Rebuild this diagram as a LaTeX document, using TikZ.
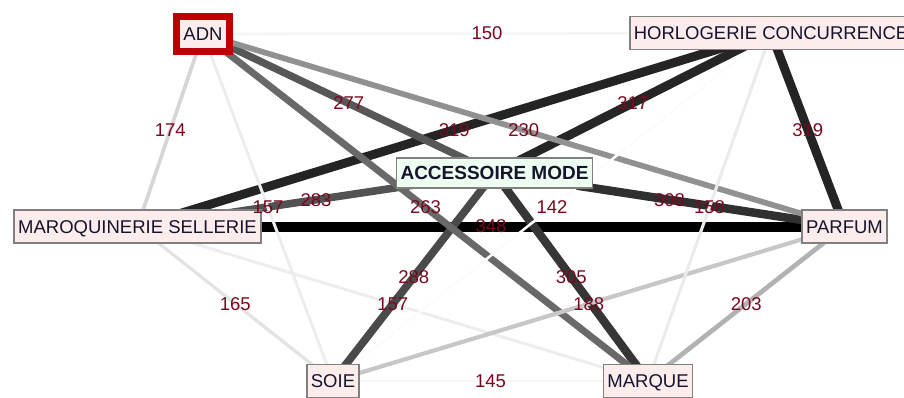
\documentclass[tikz,border=0pt]{standalone}
\usepackage{fontspec}
\setmainfont{Liberation Sans}
\usepackage{xcolor}
\usepackage{tikz}
\usetikzlibrary{backgrounds}
\definecolor{nodepink}{RGB}{253,236,236}
\definecolor{nodegreen}{RGB}{238,254,240}
\definecolor{nodeink}{RGB}{20,20,45}
\definecolor{boxgray}{RGB}{128,128,128}
\definecolor{adnred}{RGB}{192,0,0}
\definecolor{weightred}{RGB}{120,8,30}
\tikzset{
    vertex/.style={rectangle, draw=boxgray, fill=nodepink, line width=1.5pt, inner xsep=4pt, inner ysep=0pt, minimum height=33pt, text height=13.3pt, text depth=0pt, text=nodeink, font=\fontsize{18.5}{20}\selectfont},
    hub/.style={vertex, fill=nodegreen, minimum height=30pt, font=\fontsize{19}{20}\selectfont\bfseries},
    chosen/.style={vertex, draw=adnred, line width=7pt, minimum width=53pt, minimum height=35pt},
    link/.style={line cap=butt},
    weight/.style={text=weightred, inner sep=0pt, font=\fontsize{18.5}{20}\selectfont},
}

\begin{document}
\begin{tikzpicture}[x=1pt, y=-1pt]
    \useasboundingbox (0,0) rectangle (904,397);
    % vertices
    \node[chosen] (adn) at (203,34) {ADN};
    \node[vertex] (horl) at (771,33) {HORLOGERIE CONCURRENCE};
    \node[hub] (acc) at (494.5,173) {ACCESSOIRE MODE};
    \node[vertex] (maro) at (137.5,226.5) {MAROQUINERIE SELLERIE};
    \node[vertex] (parf) at (844.5,226.5) {PARFUM};
    \node[vertex] (soie) at (333,381) {SOIE};
    \node[vertex] (marq) at (648,381) {MARQUE};
    % links, shade and width follow the weight
    \begin{pgfonlayer}{background}
    \draw[link, draw=black, line width=10pt] (maro.center) -- (parf.center);
    \draw[link, draw=black!86, line width=8.9pt] (horl.center) -- (maro.center);
    \draw[link, draw=black!86, line width=8.9pt] (horl.center) -- (parf.center);
    \draw[link, draw=black!85, line width=8.9pt] (horl.center) -- (acc.center);
    \draw[link, draw=black!81, line width=8.5pt] (acc.center) -- (parf.center);
    \draw[link, draw=black!7, line width=3pt] (maro.center) -- (marq.center);
    \draw[link, draw=black!79, line width=8.4pt] (acc.center) -- (marq.center);
    \draw[link, draw=black!71, line width=7.8pt] (acc.center) -- (soie.center);
    \draw[link, draw=black!68, line width=7.6pt] (maro.center) -- (acc.center);
    \draw[link, draw=black!66, line width=7.4pt] (adn.center) -- (acc.center);
    \draw[link, draw=black!59, line width=6.9pt] (adn.center) -- (marq.center);
    \draw[link, draw=black!43, line width=5.7pt] (adn.center) -- (parf.center);
    \draw[link, draw=black!30, line width=4.7pt] (parf.center) -- (marq.center);
    \draw[link, draw=black!22, line width=4.2pt] (parf.center) -- (soie.center);
    \draw[link, draw=black!16, line width=3.7pt] (adn.center) -- (maro.center);
    \draw[link, draw=black!11, line width=3.3pt] (maro.center) -- (soie.center);
    \draw[link, draw=black!8, line width=3.1pt] (horl.center) -- (marq.center);
    \draw[link, draw=black!7, line width=3pt] (adn.center) -- (soie.center);
    \draw[link, draw=black!4, line width=2.8pt] (adn.center) -- (horl.center);
    \draw[link, draw=black!3, line width=2.6pt] (soie.center) -- (marq.center);
    \draw[link, draw=black!1, line width=2.6pt] (horl.center) -- (soie.center);
    \end{pgfonlayer}
    % weights at the middle of each link
    \path (maro.center) -- node[weight] (w348) {348} (parf.center);
    \path (horl.center) -- node[weight] (w319a) {319} (maro.center);
    \path (horl.center) -- node[weight] (w319b) {319} (parf.center);
    \path (horl.center) -- node[weight] (w317) {317} (acc.center);
    \path (acc.center) -- node[weight] (w308) {308} (parf.center);
    \path (maro.center) -- node[weight] (w157a) {157} (marq.center);
    \path (acc.center) -- node[weight] (w305) {305} (marq.center);
    \path (acc.center) -- node[weight] (w288) {288} (soie.center);
    \path (maro.center) -- node[weight] (w283) {283} (acc.center);
    \path (adn.center) -- node[weight] (w277) {277} (acc.center);
    \path (adn.center) -- node[weight] (w263) {263} (marq.center);
    \path (adn.center) -- node[weight] (w230) {230} (parf.center);
    \path (parf.center) -- node[weight] (w203) {203} (marq.center);
    \path (parf.center) -- node[weight] (w188) {188} (soie.center);
    \path (adn.center) -- node[weight] (w174) {174} (maro.center);
    \path (maro.center) -- node[weight] (w165) {165} (soie.center);
    \path (horl.center) -- node[weight] (w158) {158} (marq.center);
    \path (adn.center) -- node[weight] (w157b) {157} (soie.center);
    \path (adn.center) -- node[weight] (w150) {150} (horl.center);
    \path (soie.center) -- node[weight] (w145) {145} (marq.center);
    \path (horl.center) -- node[weight] (w142) {142} (soie.center);
\end{tikzpicture}
\end{document}
